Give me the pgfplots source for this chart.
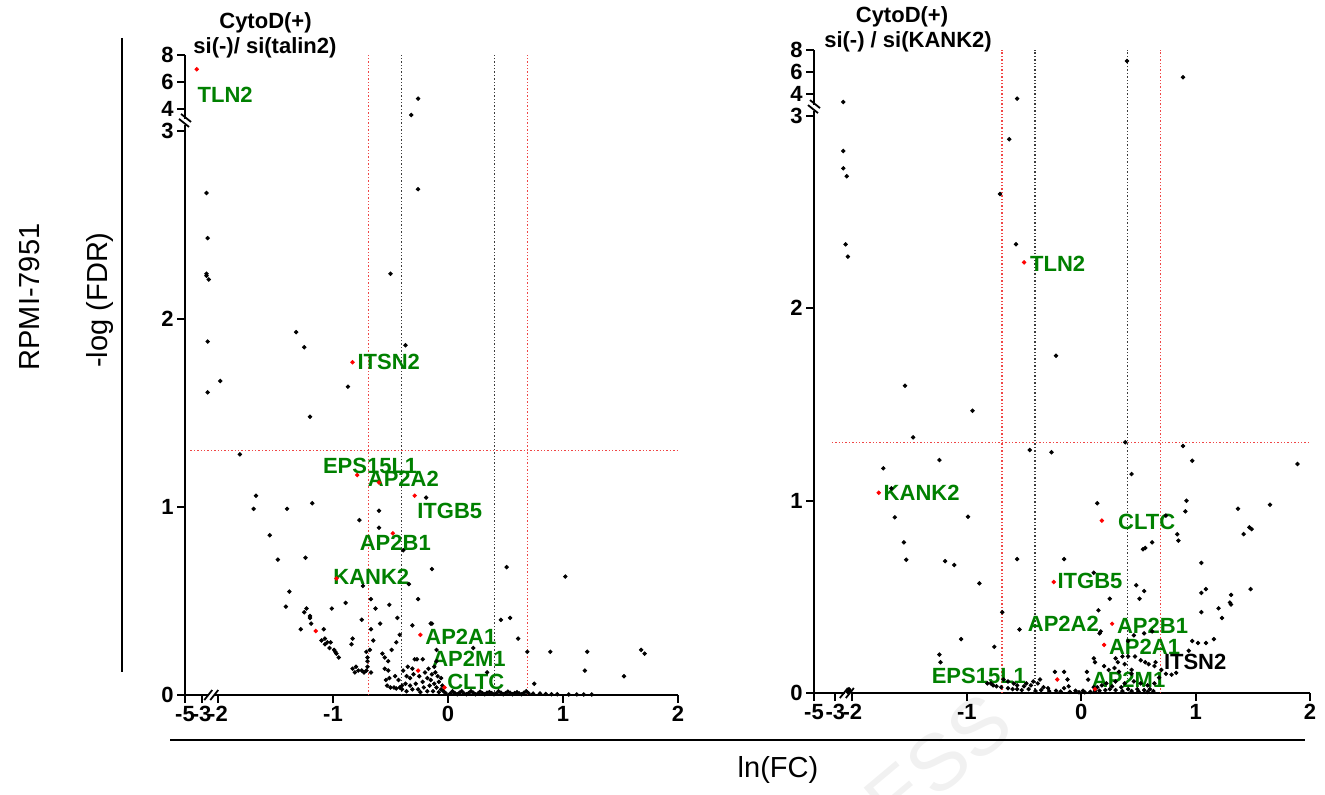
\documentclass[border=0pt]{standalone}
\usepackage{fontspec}
\setmainfont{Liberation Sans}
\usepackage{pgfplots}
\pgfplotsset{compat=1.18}
\definecolor{lblgreen}{RGB}{0,128,0}
\definecolor{refred}{RGB}{240,70,70}
\definecolor{refblk}{RGB}{60,60,60}

% broken axes: y above 3 and x below -2 are compressed (display coordinates)
\pgfplotsset{volcano/.style={
  scale only axis, anchor=south west, clip=false,
  axis lines*=left, axis line style={line width=1pt,-},
  tick align=outside, tick style={line width=1pt,black}, major tick length=4pt,
  ticklabel style={font=\bfseries\fontsize{11}{13}\selectfont, inner sep=1.5pt},
  ymin=0, xmax=2,
  xtick={-5,-3,-2,-1,0,1,2},
}}
\tikzset{
  lbl/.style={text=lblgreen, font=\bfseries\fontsize{11}{13}\selectfont, anchor=west, inner sep=0pt},
  ttl/.style={font=\bfseries\fontsize{11}{13}\selectfont, inner sep=0pt},
  brk/.style={line width=0.9pt},
}

\begin{document}
\begin{tikzpicture}
\useasboundingbox (0,0) rectangle (662.5pt,397pt);
% faint watermark, behind everything
\node[rotate=40, text=gray!11, font=\fontsize{40}{40}\selectfont, inner sep=0pt] at (469pt,16pt) {ESS};

% ---------------- left panel: si(-)/si(talin2)
\begin{axis}[volcano, at={(92.5pt,49.5pt)}, width=246.5pt, height=320pt,
  xmin=-2.287, ymax=3.404,
  xtick={-2.287,-2.142,-2,-1,0,1,2}, xticklabels={-5,-3,-2,-1,0,1,2},
  ytick={0,1,2,3,3.117,3.261,3.404}, yticklabels={0,1,2,3,4,6,8}]
\addplot[refred, densely dotted, line width=0.7pt] coordinates {(-0.693,0) (-0.693,3.404)};
\addplot[refred, densely dotted, line width=0.7pt] coordinates {(0.693,0) (0.693,3.404)};
\addplot[refblk, densely dotted, line width=0.7pt] coordinates {(-0.405,0) (-0.405,3.404)};
\addplot[refblk, densely dotted, line width=0.7pt] coordinates {(0.405,0) (0.405,3.404)};
\addplot[refred, densely dotted, line width=0.7pt] coordinates {(-2.24,1.301) (2,1.301)};
\addplot[only marks, mark=*, mark size=0.9pt, black] table {
x y
-0.26 3.172
-0.32 3.085
-2.10 2.67
-0.26 2.69
-2.09 2.43
-2.10 2.24
-2.10 2.23
-2.08 2.21
-0.50 2.24
-1.32 1.93
-1.25 1.85
-0.37 1.86
-2.09 1.88
-1.98 1.67
-2.09 1.61
-0.87 1.64
-1.20 1.48
-1.81 1.28
-0.19 1.05
-1.67 1.06
-1.69 0.99
-1.40 0.99
-1.18 1.02
-0.60 0.98
-0.77 0.93
-0.60 0.89
-1.55 0.85
-0.39 0.77
-1.48 0.72
-1.24 0.73
-0.14 0.67
-0.74 0.58
-0.34 0.59
-1.38 0.55
-1.41 0.47
-1.23 0.46
-1.01 0.46
-0.89 0.49
-0.67 0.51
-0.51 0.48
-0.26 0.51
-0.63 0.46
-1.25 0.44
-1.20 0.42
-1.20 0.41
-1.19 0.38
-1.28 0.35
-1.08 0.35
-1.10 0.29
-1.07 0.30
-1.05 0.28
-1.02 0.28
-1.07 0.27
-1.03 0.25
-0.99 0.24
-0.98 0.23
-0.95 0.20
-0.97 0.22
-0.75 0.40
-0.83 0.30
-0.84 0.27
-0.83 0.14
-0.80 0.15
-0.78 0.13
-0.75 0.13
-0.73 0.12
-0.71 0.13
-0.67 0.12
-0.81 0.12
-0.70 0.15
-0.70 0.18
-0.70 0.20
-0.71 0.23
-0.68 0.24
-0.67 0.35
-0.65 0.29
-0.59 0.38
-0.44 0.41
-0.42 0.32
-0.31 0.37
-0.15 0.38
-0.14 0.38
-0.45 0.28
-0.49 0.24
-0.57 0.22
-0.55 0.20
-0.52 0.18
-0.55 0.14
-0.52 0.13
-0.51 0.09
-0.54 0.08
-0.53 0.05
-0.50 0.04
-0.47 0.04
-0.45 0.035
-0.42 0.04
-0.40 0.05
-0.29 0.19
-0.27 0.19
-0.22 0.19
-0.36 0.10
-0.33 0.09
-0.30 0.11
-0.25 0.10
-0.20 0.12
-0.17 0.14
-0.12 0.15
-0.10 0.18
-0.14 0.11
-0.18 0.09
-0.22 0.07
-0.28 0.06
-0.33 0.05
-0.37 0.06
-0.40 0.03
-0.36 0.02
-0.31 0.03
-0.26 0.03
-0.21 0.04
-0.16 0.05
-0.12 0.06
-0.08 0.07
-0.10 0.04
-0.06 0.03
-0.13 0.02
-0.18 0.02
-0.24 0.015
-0.04 0.02
-0.02 0.01
-0.08 0.015
-0.05 0.05
-0.09 0.10
-0.11 0.12
-0.06 0.09
-0.15 0.08
-0.43 0.08
-0.46 0.10
-0.39 0.13
-0.35 0.15
-0.31 0.14
-0.10 0.24
0.51 0.68
1.02 0.63
0.46 0.40
0.54 0.41
0.61 0.30
0.22 0.25
0.69 0.23
0.89 0.23
1.21 0.23
1.68 0.24
1.71 0.22
1.19 0.13
1.53 0.10
0.75 0.06
0.34 0.12
0.02 0.008
0.06 0.01
0.10 0.012
0.14 0.008
0.18 0.01
0.22 0.012
0.26 0.008
0.30 0.01
0.34 0.012
0.38 0.01
0.42 0.008
0.46 0.012
0.50 0.01
0.54 0.012
0.58 0.01
0.62 0.008
0.66 0.012
0.70 0.01
0.74 0.008
0.80 0.008
0.85 0.006
0.04 0.02
0.12 0.02
0.20 0.02
0.28 0.018
0.36 0.015
0.44 0.02
0.52 0.018
0.60 0.015
0.68 0.02
0.08 0.004
0.16 0.004
0.24 0.004
0.32 0.004
0.40 0.004
0.48 0.004
0.56 0.004
0.64 0.004
0.90 0.004
0.95 0.004
1.05 0.003
1.12 0.003
1.18 0.003
1.25 0.003
};
\addplot[only marks, mark=*, mark size=0.9pt, red] table {
x y
-2.185 3.328
-0.83 1.77
-0.79 1.17
-0.60 1.13
-0.29 1.06
-0.48 0.86
-0.97 0.62
-1.15 0.34
-0.24 0.32
-0.26 0.13
-0.03 0.04
};
\node[lbl] at (axis cs:-2.18,3.19) {TLN2};
\node[lbl] at (axis cs:-0.79,1.77) {ITSN2};
\node[lbl] at (axis cs:-1.09,1.22) {EPS15L1};
\node[lbl] at (axis cs:-0.70,1.15) {AP2A2};
\node[lbl] at (axis cs:-0.27,0.98) {ITGB5};
\node[lbl] at (axis cs:-0.77,0.81) {AP2B1};
\node[lbl] at (axis cs:-1.00,0.63) {KANK2};
\node[lbl] at (axis cs:-0.20,0.31) {AP2A1};
\node[lbl] at (axis cs:-0.14,0.19) {AP2M1};
\node[lbl] at (axis cs:-0.01,0.07) {CLTC};
% axis breaks
\fill[white] ([xshift=-2pt,yshift=-1.5pt]axis cs:-2.287,3.048) rectangle ([xshift=2pt,yshift=1.5pt]axis cs:-2.287,3.048);
\draw[brk] ([xshift=-3pt,yshift=1.5pt]axis cs:-2.287,3.048) -- ++(5pt,-4pt);
\draw[brk] ([xshift=-2pt,yshift=4pt]axis cs:-2.287,3.048) -- ++(5pt,-4pt);
\fill[white] ([xshift=-1.5pt,yshift=-2pt]axis cs:-2.05,0) rectangle ([xshift=1.5pt,yshift=2pt]axis cs:-2.05,0);
\draw[brk] ([xshift=-4pt,yshift=-2.5pt]axis cs:-2.05,0) -- ++(4pt,5pt);
\draw[brk] ([xshift=-1pt,yshift=-2.5pt]axis cs:-2.05,0) -- ++(4pt,5pt);
\end{axis}

% ---------------- right panel: si(-)/si(KANK2)
\begin{axis}[volcano, at={(407pt,50.5pt)}, width=248pt, height=321.5pt,
  xmin=-2.336, ymax=3.342,
  xtick={-2.336,-2.15,-2,-1,0,1,2}, xticklabels={-5,-3,-2,-1,0,1,2},
  ytick={0,1,2,3,3.112,3.227,3.342}, yticklabels={0,1,2,3,4,6,8}]
\addplot[refred, densely dotted, line width=0.7pt] coordinates {(-0.693,0) (-0.693,3.342)};
\addplot[refred, densely dotted, line width=0.7pt] coordinates {(0.693,0) (0.693,3.342)};
\addplot[refblk, densely dotted, line width=0.7pt] coordinates {(-0.405,0) (-0.405,3.342)};
\addplot[refblk, densely dotted, line width=0.7pt] coordinates {(0.405,0) (0.405,3.342)};
\addplot[refred, densely dotted, line width=0.7pt] coordinates {(-2.18,1.301) (2,1.301)};
\addplot[only marks, mark=*, mark size=0.9pt, black] table {
x y
0.40 3.285
0.89 3.20
-2.08 3.072
-0.56 3.089
-0.63 2.878
-2.08 2.817
-2.08 2.727
-2.05 2.686
-0.71 2.594
-2.06 2.332
-0.57 2.332
-2.04 2.268
-0.22 1.753
-1.54 1.597
-0.95 1.467
-1.47 1.329
0.385 1.303
-0.45 1.263
-0.26 1.251
0.89 1.284
0.97 1.207
1.89 1.190
-1.24 1.211
-1.73 1.168
-1.66 1.064
0.44 1.138
-1.63 0.913
-0.99 0.916
0.14 0.986
0.74 0.922
0.92 0.999
0.91 0.944
1.37 0.958
1.65 0.979
0.84 0.825
0.85 0.792
1.47 0.861
1.49 0.852
1.42 0.826
0.62 0.783
0.56 0.754
0.54 0.747
-1.55 0.783
-1.53 0.693
-1.19 0.685
-1.11 0.665
-0.56 0.696
-0.15 0.696
1.05 0.676
0.11 0.625
-0.89 0.57
0.48 0.56
0.55 0.53
0.51 0.49
0.25 0.49
1.05 0.52
1.09 0.54
1.48 0.54
1.31 0.51
1.31 0.46
1.30 0.47
1.20 0.44
1.05 0.42
1.23 0.39
0.15 0.43
-0.69 0.42
-0.54 0.33
0.62 0.32
0.55 0.31
0.46 0.30
0.41 0.27
0.97 0.27
1.02 0.26
1.09 0.26
1.16 0.28
0.94 0.22
-1.05 0.28
-0.76 0.24
-1.24 0.20
-1.23 0.16
0.17 0.32
0.16 0.31
0.11 0.18
0.12 0.16
0.30 0.18
0.32 0.16
0.36 0.19
0.41 0.19
0.47 0.19
0.52 0.17
0.56 0.16
0.59 0.15
0.64 0.14
0.65 0.16
0.38 0.15
0.44 0.12
0.20 0.14
0.24 0.12
0.29 0.13
0.33 0.11
0.44 0.10
0.74 0.10
0.79 0.095
0.83 0.105
0.70 0.12
0.68 0.08
-0.82 0.05
-0.79 0.05
-0.77 0.04
-0.68 0.07
-0.64 0.06
-0.59 0.05
-0.56 0.04
-0.50 0.035
-0.44 0.04
-0.38 0.05
-0.33 0.03
-0.29 0.025
-0.23 0.11
-0.15 0.11
-0.12 0.07
-0.11 0.035
-0.15 0.025
-0.05 0.012
0.015 0.012
0.05 0.11
0.06 0.07
0.11 0.03
0.14 0.03
0.18 0.04
0.27 0.035
0.35 0.03
0.41 0.02
0.49 0.02
0.55 0.015
0.60 0.02
-0.60 0.02
-0.52 0.015
-0.46 0.02
-0.40 0.01
-0.35 0.015
-0.28 0.01
-0.22 0.012
-0.18 0.008
-0.10 0.006
-0.02 0.004
0.03 0.004
0.08 0.006
0.12 0.01
0.16 0.012
0.21 0.015
0.25 0.02
0.30 0.015
0.36 0.01
0.44 0.01
0.50 0.008
0.58 0.006
0.63 0.01
-0.70 0.03
-0.74 0.035
-0.64 0.025
-0.56 0.02
-0.48 0.05
-0.42 0.06
-0.36 0.07
0.22 0.05
0.30 0.06
0.38 0.05
0.46 0.06
0.52 0.05
0.58 0.04
0.64 0.05
-2.02 0.01
-2.03 0.02
-2.04 0.005
};
\addplot[only marks, mark=*, mark size=0.9pt, red] table {
x y
-0.50 2.238
-1.77 1.041
0.18 0.896
-0.24 0.577
0.27 0.36
0.20 0.25
0.12 0.02
-0.21 0.07
};
\node[lbl] at (axis cs:-0.45,2.23) {TLN2};
\node[lbl] at (axis cs:-1.73,1.04) {KANK2};
\node[lbl] at (axis cs:0.32,0.89) {CLTC};
\node[lbl] at (axis cs:-0.21,0.58) {ITGB5};
\node[lbl] at (axis cs:-0.47,0.36) {AP2A2};
\node[lbl] at (axis cs:0.31,0.35) {AP2B1};
\node[lbl] at (axis cs:0.24,0.24) {AP2A1};
\node[lbl, text=black] at (axis cs:0.72,0.16) {ITSN2};
\node[lbl] at (axis cs:-1.31,0.09) {EPS15L1};
\node[lbl] at (axis cs:0.09,0.07) {AP2M1};
% axis breaks
\fill[white] ([xshift=-2pt,yshift=-1.5pt]axis cs:-2.336,3.04) rectangle ([xshift=2pt,yshift=1.5pt]axis cs:-2.336,3.04);
\draw[brk] ([xshift=-3pt,yshift=1.5pt]axis cs:-2.336,3.04) -- ++(5pt,-4pt);
\draw[brk] ([xshift=-2pt,yshift=4pt]axis cs:-2.336,3.04) -- ++(5pt,-4pt);
\fill[white] ([xshift=-1.5pt,yshift=-2pt]axis cs:-2.04,0) rectangle ([xshift=1.5pt,yshift=2pt]axis cs:-2.04,0);
\draw[brk] ([xshift=-4pt,yshift=-2.5pt]axis cs:-2.04,0) -- ++(4pt,5pt);
\draw[brk] ([xshift=-1pt,yshift=-2.5pt]axis cs:-2.04,0) -- ++(4pt,5pt);
\end{axis}

% titles and outer labels
\node[ttl] at (132.75pt,385.5pt) {CytoD(+)};
\node[ttl] at (132.5pt,373pt) {si(-)/ si(talin2)};
\node[ttl] at (451pt,388.5pt) {CytoD(+)};
\node[ttl] at (454pt,376pt) {si(-) / si(KANK2)};
\node[rotate=90, font=\fontsize{14.5}{16}\selectfont] at (15pt,248.5pt) {RPMI-7951};
\node[rotate=90, font=\fontsize{14.5}{16}\selectfont] at (50pt,247pt) {-log (FDR)};
\node[font=\fontsize{14.5}{16}\selectfont] at (389pt,12pt) {ln(FC)};
\draw[line width=1pt] (61pt,378pt) -- (61pt,61pt);
\draw[line width=1pt] (85pt,27pt) -- (652.5pt,27pt);
\end{tikzpicture}
\end{document}
